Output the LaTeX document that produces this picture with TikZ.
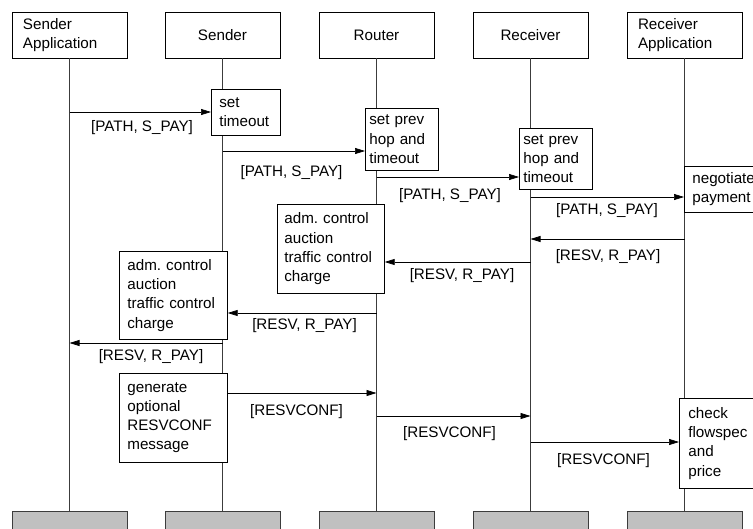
\documentclass[tikz,border=0pt]{standalone}
\usepackage{fontspec}
\setmainfont{Liberation Sans}
\usepackage{tikz}
\usetikzlibrary{arrows.meta, positioning}
\definecolor{EndGrey}{RGB}{192, 192, 192}
\definecolor{LineGrey}{RGB}{60, 60, 60}
\frenchspacing

\begin{document}
\begin{tikzpicture}[
  x=1pt, y=-1pt,
  every node/.style={font=\fontsize{15.2}{19.2}\selectfont},
  actor/.style={rectangle, draw, fill=white, line width=0.7pt,
    minimum height=46pt, text width=93pt, inner xsep=11pt, align=left},
  lifeend/.style={rectangle, draw=LineGrey, fill=EndGrey, line width=0.7pt,
    minimum width=115pt, minimum height=30pt},
  action/.style={rectangle, draw, fill=white, line width=0.7pt,
    anchor=north west, align=left, inner xsep=7pt, inner ysep=0pt},
  life/.style={line width=0.7pt, color=LineGrey},
  arr/.style={-{Triangle[length=10pt, width=6pt]}, line width=0.7pt},
  msg/.style={inner sep=0pt}
]
  \useasboundingbox (0,0) rectangle (753,528);
  \clip (0,0) rectangle (753,528);

  % participants
  \node[actor] (sa)       at (69.5, 35)  {Sender\\Application};
  \node[actor, align=center] (sender)   at (222.5, 35) {Sender};
  \node[actor, align=center] (router)   at (376.5, 35) {Router};
  \node[actor, align=center] (receiver) at (530.5, 35) {Receiver};
  \node[actor] (rapp)     at (684.5, 35) {Receiver\\Application};

  \node[lifeend] (sab)  at (69.5, 526)  {};
  \node[lifeend] (sb)   at (222.5, 526) {};
  \node[lifeend] (rb)   at (376.5, 526) {};
  \node[lifeend] (recb) at (530.5, 526) {};
  \node[lifeend] (rab)  at (684.5, 526) {};

  \draw[life] (sa) -- (sab);
  \draw[life] (sender) -- (sb);
  \draw[life] (router) -- (rb);
  \draw[life] (receiver) -- (recb);
  \draw[life] (rapp) -- (rab);

  % processing steps
  \node[action, inner xsep=8pt, text width=53pt, minimum height=46pt] (tmo) at (211, 89) {set\\timeout};
  \node[action, inner xsep=4pt, text width=65pt, minimum height=62pt] (rsp) at (365, 108) {set prev\\hop and\\timeout};
  \node[action, inner xsep=4pt, text width=65pt, minimum height=61pt] (csp) at (519, 128) {set prev\\hop and\\timeout};
  \node[action, inner xsep=8pt, text width=80pt, minimum height=46pt] (neg) at (684, 166) {negotiate\\payment};
  \node[action, text width=93pt, minimum height=89pt] (radm) at (277, 204) {adm. control\\auction\\traffic control\\charge};
  \node[action, inner xsep=8pt, text width=92pt, minimum height=88pt] (sadm) at (119, 251) {adm. control\\auction\\traffic control\\charge};
  \node[action, inner xsep=8pt, text width=92pt, minimum height=89pt] (gen) at (119, 373) {generate\\optional\\RESVCONF\\message};
  \node[action, inner xsep=9pt, text width=80pt, minimum height=90pt] (chk) at (679, 398) {check\\flowspec\\and\\price};

  % message levels
  \coordinate (m1)  at (0, 112);
  \coordinate (m2)  at (0, 151);
  \coordinate (m3)  at (0, 177);
  \coordinate (m4)  at (0, 197);
  \coordinate (m5)  at (0, 239);
  \coordinate (m6)  at (0, 262);
  \coordinate (m7)  at (0, 313);
  \coordinate (m8)  at (0, 343);
  \coordinate (m9)  at (0, 393);
  \coordinate (m10) at (0, 416);
  \coordinate (m11) at (0, 442);

  \draw[arr] (sa |- m1)       -- (tmo.west |- m1);
  \draw[arr] (sender |- m2)   -- (rsp.west |- m2);
  \draw[arr] (router |- m3)   -- (csp.west |- m3);
  \draw[arr] (receiver |- m4) -- (neg.west |- m4);
  \draw[arr] (rapp |- m5)     -- (receiver |- m5);
  \draw[arr] (receiver |- m6) -- (radm.east |- m6);
  \draw[arr] (router |- m7)   -- (sadm.east |- m7);
  \draw[arr] (sender |- m8)   -- (sa |- m8);
  \draw[arr] (gen.east |- m9) -- (router |- m9);
  \draw[arr] (router |- m10)  -- (receiver |- m10);
  \draw[arr] (receiver |- m11) -- (chk.west |- m11);

  % message labels
  \node[msg] (l1)  at (142, 128)   {[PATH, S\_PAY]};
  \node[msg] (l2)  at (291.5, 173) {[PATH, S\_PAY]};
  \node[msg] (l3)  at (450, 196)   {[PATH, S\_PAY]};
  \node[msg] (l4)  at (607, 211)   {[PATH, S\_PAY]};
  \node[msg] (l5)  at (608, 257)   {[RESV, R\_PAY]};
  \node[msg] (l6)  at (462, 276)   {[RESV, R\_PAY]};
  \node[msg] (l7)  at (304.5, 326) {[RESV, R\_PAY]};
  \node[msg] (l8)  at (151, 357)   {[RESV, R\_PAY]};
  \node[msg] (l9)  at (296.5, 412) {[RESVCONF]};
  \node[msg] (l10) at (449.5, 434) {[RESVCONF]};
  \node[msg] (l11) at (603.5, 461) {[RESVCONF]};
\end{tikzpicture}
\end{document}
